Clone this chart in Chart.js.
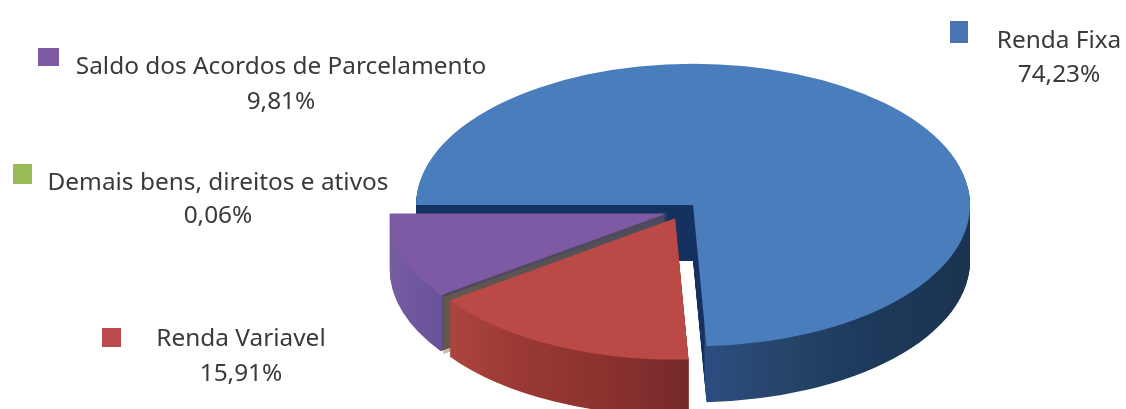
<!DOCTYPE html>
<html>
<head>
<meta charset="utf-8">
<title>Composição</title>
<script src="https://cdn.jsdelivr.net/npm/chart.js@4"></script>
<style>
html,body{margin:0;padding:0;background:#fff}
#wrap{position:relative;width:1126px;height:409px;overflow:hidden}
</style>
</head>
<body>
<div id="wrap"><canvas id="chart"></canvas></div>
<script>
// data
let categories=["Renda Fixa","Renda Variavel","Demais bens, direitos e ativos","Saldo dos Acordos de Parcelamento"]
let values=[74.23,15.91,0.06,9.81]
let valueLabels=["74,23%","15,91%","0,06%","9,81%"]

// colours
let topColors=["#4a7dbb","#bb4a46","#8a6a34","#7e5aa4"]
let swatchColors=["#4a74b4","#bd4a4c","#9bbb59","#7e5aa4"]
let sideStops=[
[[0,"#15315f"],[704,"#15315f"],[705,"#2c4d80"],[790,"#254468"],[860,"#1e3a5c"],[970,"#1b3350"]],
[[0,"#ab443d"],[453,"#ab443d"],[510,"#9c3a35"],[600,"#8c322f"],[690,"#742a2a"]],
[[0,"#85683a"],[1126,"#85683a"]],
[[0,"#785ca0"],[392,"#785ca0"],[442,"#66529a"],[443,"#4b4a5e"],[1126,"#4b4a5e"]]
]

// look of the pie
let squash=0.51
let depth=56
let explode=16
let drawOrder=[0,3,2,1]

// where the labels go: swatch x,y,w,h then text centre x and two baselines
let labelBoxes=[
[950,21,18,22,1059,48,82],
[102,328,19,19,241,346,381],
[13,164,19,20,218,190,223],
[38,48,21,18,281,74,109]
]

function drawArc(ctx,el,color,dy){
let mid=(el.startAngle+el.endAngle)/2
let orig=el.options
let o=Object.create(orig)
o.backgroundColor=color
el.options=o
ctx.save()
ctx.translate(el.x,el.y+dy)
ctx.scale(1,squash)
ctx.translate(-el.x,-el.y)
ctx.translate(Math.cos(mid)*explode,Math.sin(mid)*explode)
el.draw(ctx)
ctx.restore()
el.options=orig
}

function sideGradient(ctx,el,stops,w){
let mid=(el.startAngle+el.endAngle)/2
let dx=Math.cos(mid)*explode
let g=ctx.createLinearGradient(-dx,0,w-dx,0)
stops.forEach(s=>g.addColorStop(s[0]/w,s[1]))
return g
}

let pie3d={
id:"pie3d",
beforeDatasetsDraw(chart){
let ctx=chart.ctx
let arcs=chart.getDatasetMeta(0).data
drawOrder.forEach(i=>{
let side=sideGradient(ctx,arcs[i],sideStops[i],chart.width)
for(let k=depth;k>0;k--){
drawArc(ctx,arcs[i],side,k)
}
drawArc(ctx,arcs[i],topColors[i],0)
})
return false
},
afterDraw(chart){
let ctx=chart.ctx
ctx.save()
ctx.font="24.4px 'Noto Sans'"
ctx.textAlign="center"
ctx.textBaseline="alphabetic"
categories.forEach((name,i)=>{
let b=labelBoxes[i]
ctx.fillStyle=swatchColors[i]
ctx.fillRect(b[0],b[1],b[2],b[3])
ctx.fillStyle="#3a3a3a"
ctx.fillText(name,b[4],b[5])
ctx.fillText(valueLabels[i],b[4],b[6])
})
ctx.restore()
}
}

new Chart(document.getElementById("chart"),{
type:"pie",
data:{
labels:categories,
datasets:[{data:values,backgroundColor:topColors,borderWidth:0}]
},
options:{
responsive:true,
maintainAspectRatio:false,
animation:false,
rotation:270,
radius:277,
layout:{padding:{left:238,top:13}},
plugins:{legend:{display:false},tooltip:{enabled:false}}
},
plugins:[pie3d]
})
</script>
</body>
</html>
